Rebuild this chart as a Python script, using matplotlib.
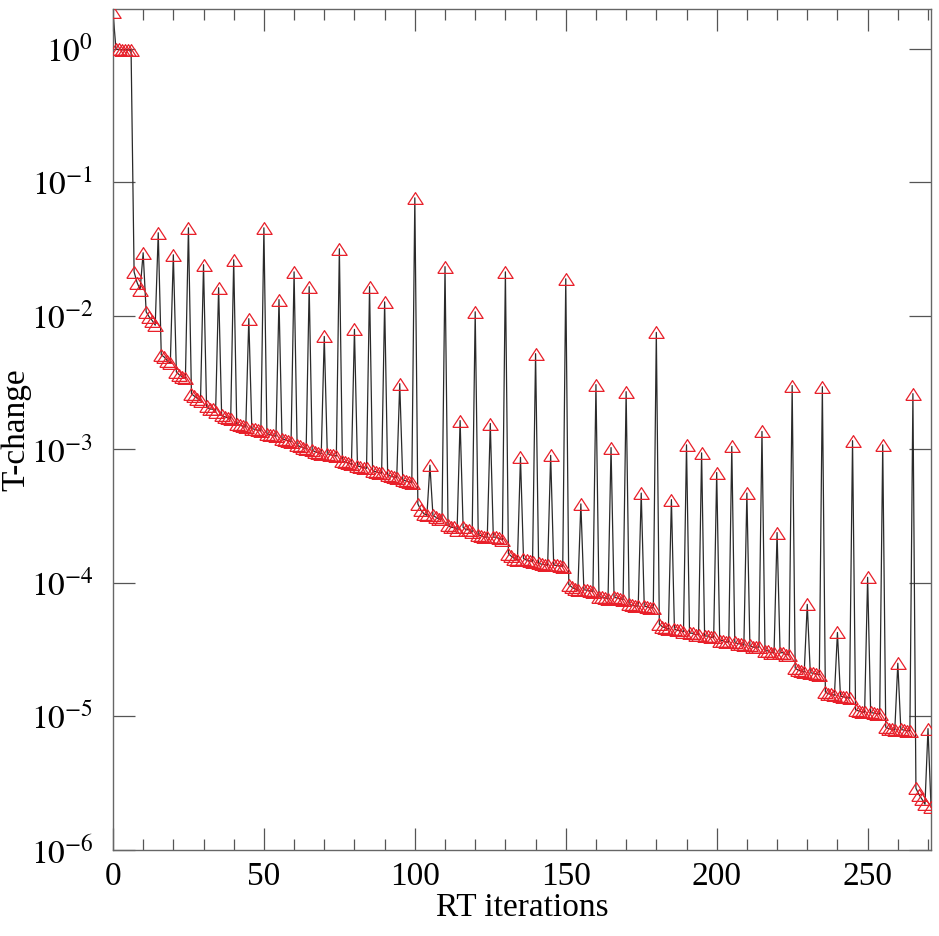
import numpy as np
import matplotlib
matplotlib.use("Agg")
import matplotlib.pyplot as plt
from matplotlib.ticker import FixedLocator, MultipleLocator, NullLocator

# T-change per RT iteration (iterations 0..271)
tchange = [
    1.88,
    0.99, 0.985, 0.98, 0.98, 0.975, 0.975,
    0.0213, 0.0177, 0.0157,
    0.0296, 0.0107, 0.0098, 0.0092, 0.0085,
    0.0418, 0.0051, 0.0049, 0.0046, 0.0044,
    0.0286, 0.0038, 0.0036, 0.0035, 0.0034,
    0.0455, 0.0026, 0.0025, 0.0024, 0.0023,
    0.0241, 0.0021, 0.0020, 0.0020, 0.0019,
    0.0162, 0.00180, 0.00175, 0.00172, 0.00168,
    0.0262, 0.00155, 0.00152, 0.00149, 0.00146,
    0.0095, 0.00143, 0.00141, 0.00139, 0.00137,
    0.0455, 0.00131, 0.00129, 0.00127, 0.00125,
    0.0132, 0.00120, 0.00118, 0.00116, 0.00114,
    0.0213, 0.00107, 0.00105, 0.00103, 0.00101,
    0.0165, 0.00098, 0.00096, 0.00094, 0.00093,
    0.0070, 0.00093, 0.00091, 0.00090, 0.00089,
    0.0317, 0.00082, 0.00080, 0.00079, 0.00077,
    0.0079, 0.00075, 0.00074, 0.00073, 0.00072,
    0.0165, 0.00069, 0.00068, 0.00067, 0.00066,
    0.0127, 0.00064, 0.00063, 0.00062, 0.00061,
    0.0031, 0.00059, 0.00058, 0.00057, 0.00056,
    0.0763, 0.00039, 0.00035, 0.00033, 0.00032,
    0.00076, 0.00032, 0.00031, 0.00030, 0.00030,
    0.0233, 0.00027, 0.00026, 0.00026, 0.00025,
    0.00164, 0.00026, 0.00025, 0.00025, 0.00024,
    0.0107, 0.00023, 0.000225, 0.00022, 0.00022,
    0.00156, 0.00022, 0.00022, 0.000215, 0.00021,
    0.0213, 0.000165, 0.000158, 0.000152, 0.000148,
    0.00087, 0.000152, 0.000148, 0.000146, 0.000144,
    0.0052, 0.000140, 0.000138, 0.000137, 0.000135,
    0.00090, 0.000136, 0.000135, 0.000134, 0.000132,
    0.0189, 0.000097, 0.000093, 0.000090, 0.000088,
    0.00039, 0.000089, 0.000088, 0.000087, 0.000086,
    0.00305, 0.000079, 0.000078, 0.000077, 0.000076,
    0.00103, 0.000078, 0.000077, 0.000076, 0.000075,
    0.0027, 0.000069, 0.000068, 0.000067, 0.000067,
    0.00047, 0.000067, 0.000066, 0.000065, 0.000065,
    0.0075, 0.000049, 0.000047, 0.000046, 0.000045,
    0.00042, 0.000045, 0.000044, 0.000044, 0.000043,
    0.00108, 0.000042, 0.000042, 0.000041, 0.000041,
    0.00094, 0.000040, 0.000040, 0.000039, 0.000039,
    0.00067, 0.000037, 0.000037, 0.000036, 0.000036,
    0.00105, 0.000036, 0.000035, 0.000035, 0.000034,
    0.00047, 0.000034, 0.000033, 0.000033, 0.000033,
    0.00136, 0.000031, 0.000031, 0.000030, 0.000030,
    0.000238, 0.000030, 0.000030, 0.000029, 0.000029,
    0.0030, 0.0000230, 0.0000222, 0.0000218, 0.0000215,
    0.000069, 0.0000213, 0.0000210, 0.0000208, 0.0000205,
    0.00294, 0.0000152, 0.0000148, 0.0000146, 0.0000144,
    0.0000425, 0.0000142, 0.0000140, 0.0000139, 0.0000137,
    0.00116, 0.0000112, 0.0000110, 0.0000108, 0.0000107,
    0.000110, 0.0000107, 0.0000106, 0.0000105, 0.0000104,
    0.00108, 0.0000083, 0.0000081, 0.0000080, 0.0000079,
    0.000025, 0.0000080, 0.0000079, 0.0000078, 0.0000078,
    0.00261, 0.0000029, 0.0000026, 0.0000024, 0.0000022,
    0.0000081, 0.0000021,
]
iterations = np.arange(len(tchange))

ytick_vals = [1e0, 1e-1, 1e-2, 1e-3, 1e-4, 1e-5, 1e-6]
ytick_labels = [r"$10^{0}$", r"$10^{-1}$", r"$10^{-2}$", r"$10^{-3}$",
                r"$10^{-4}$", r"$10^{-5}$", r"$10^{-6}$"]
xtick_vals = [0, 50, 100, 150, 200, 250]

plt.rcParams["font.family"] = ["Liberation Serif", "DejaVu Serif"]
plt.rcParams["mathtext.fontset"] = "stix"

fig = plt.figure(figsize=(9.39, 9.36), dpi=100)
ax = fig.add_axes([0.1203, 0.0919, 0.8712, 0.8985])

# IDL-like wide triangle marker
tri = [(-0.65, -0.5), (0.0, 0.5), (0.65, -0.5), (-0.65, -0.5)]
ax.plot(iterations, tchange, color="#2a2a2a", lw=0.9, zorder=2)
ax.plot(iterations, tchange, ls="none", marker=tri, markersize=11,
        markerfacecolor="none", markeredgecolor="#e8202a", markeredgewidth=0.9,
        zorder=3)

ax.set_yscale("log")
ax.set_xlim(0, 271)
ax.set_ylim(1e-6, 1.98)

ax.yaxis.set_major_locator(FixedLocator(ytick_vals))
ax.set_yticklabels(ytick_labels)
ax.yaxis.set_minor_locator(NullLocator())
ax.xaxis.set_major_locator(FixedLocator(xtick_vals))
ax.xaxis.set_minor_locator(MultipleLocator(10))

ax.tick_params(which="major", direction="in", length=16, width=0.9,
               top=True, right=True, labelsize=24, color="#555555")
ax.tick_params(which="minor", direction="in", length=8, width=0.9,
               top=True, right=True, color="#555555")
ax.tick_params(axis="y", pad=14)
ax.tick_params(axis="x", pad=8)
for s in ax.spines.values():
    s.set_color("#666666")
    s.set_linewidth(1.0)

ax.set_xlabel("RT iterations", fontsize=24)
ax.set_ylabel("T-change", fontsize=24)
ax.xaxis.set_label_coords(0.5, -0.051)
ax.yaxis.set_label_coords(-0.1, 0.5)

fig.savefig("out.png", dpi=100)
